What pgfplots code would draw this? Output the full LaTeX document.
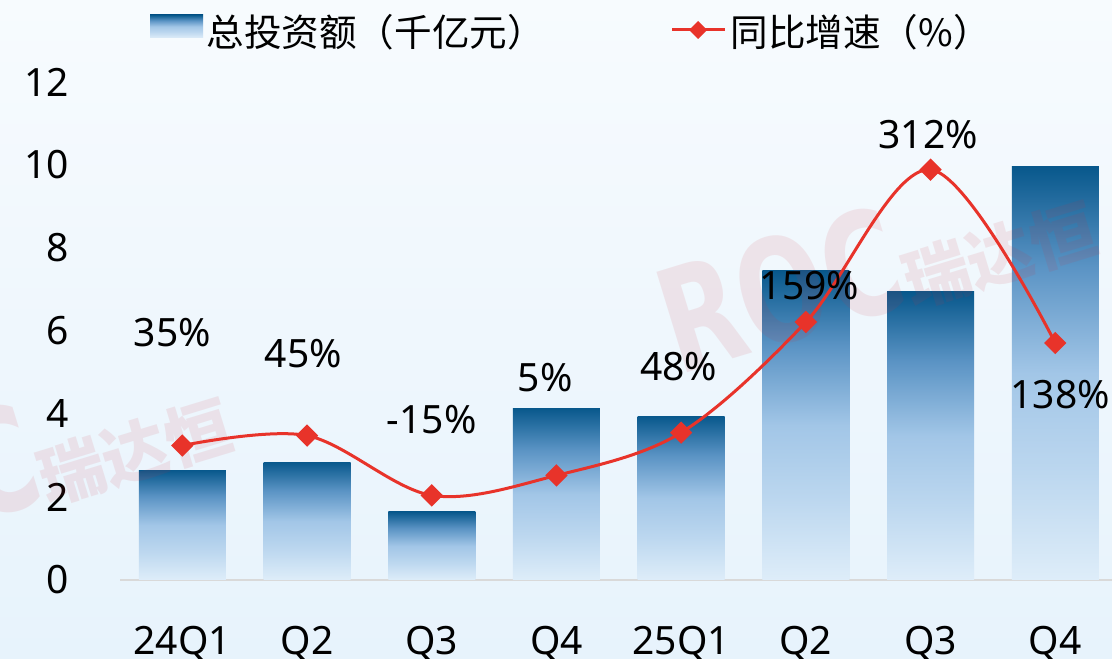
\documentclass[border=0pt]{standalone}
\usepackage{pgfplots}
\pgfplotsset{compat=1.18}
\usepackage{fontspec}
\setmainfont{Noto Sans}
\newfontfamily\cjk{Noto Sans CJK SC}
\newfontfamily\wmfont{DejaVu Sans}
\definecolor{bgtop}{HTML}{F7FBFE}
\definecolor{bgbot}{HTML}{E7F3FC}
\definecolor{bdark}{HTML}{08588C}
\definecolor{bmidd}{HTML}{5A93C4}
\definecolor{bmid}{HTML}{A2C6E7}
\definecolor{bml}{HTML}{BCD7EF}
\definecolor{blight}{HTML}{DEEDF9}
\definecolor{lred}{HTML}{E8332A}
\definecolor{wm}{HTML}{D0303C}
\pgfdeclareverticalshading{barshade}{100bp}{color(0bp)=(blight); color(25bp)=(blight); color(38bp)=(bml); color(50bp)=(bmid); color(63bp)=(bmidd); color(75bp)=(bdark); color(100bp)=(bdark)}
\pgfplotsset{gbar/.style={ybar, bar width=43.5pt, bar shift=0pt, draw=none, shading=barshade}}
\begin{document}
\begin{tikzpicture}[x=1pt,y=1pt]
\path[use as bounding box] (0,0) rectangle (556,329);
\shade[top color=bgtop,bottom color=bgbot] (0,0) rectangle (556,329);
\begin{axis}[
  at={(60pt,39pt)}, anchor=south west, scale only axis,
  width=496pt, height=249pt,
  xmin=-0.5, xmax=7.455, ymin=0, ymax=12,
  axis x line*=bottom, axis y line*=left,
  y axis line style={draw=none},
  x axis line style={draw=black!15, line width=0.8pt},
  major tick length=0pt,
  ytick={0,2,4,6,8,10,12},
  xtick={0,1,2,3,4,5,6,7},
  xticklabels={24Q1,Q2,Q3,Q4,25Q1,Q2,Q3,Q4},
  /pgf/number format/assume math mode=true,
  tick label style={font=\fontsize{19.5}{23}\selectfont, text=black},
  yticklabel style={xshift=-22pt},
  xticklabel style={yshift=-19.5pt},
  clip=false,
]
\addplot[gbar] coordinates {(0,2.65)};
\addplot[gbar] coordinates {(1,2.84)};
\addplot[gbar] coordinates {(2,1.64)};
\addplot[gbar] coordinates {(3,4.14)};
\addplot[gbar] coordinates {(4,3.95)};
\addplot[gbar] coordinates {(5,7.45)};
\addplot[gbar] coordinates {(6,6.94)};
\addplot[gbar] coordinates {(7,9.96)};
\end{axis}
% watermark
\begin{scope}[opacity=0.10]
\node[rotate=17, text=wm, font=\cjk\bfseries\fontsize{33}{33}\selectfont] at (500,201.5) {瑞达恒};
\node[rotate=17, xscale=0.72, text=wm, font=\wmfont\bfseries\fontsize{72}{72}\selectfont] at (390,184) {ROC};
\node[rotate=17, text=wm, font=\cjk\bfseries\fontsize{33}{33}\selectfont] at (67.5,103) {瑞达恒};
\node[rotate=17, xscale=0.72, text=wm, font=\wmfont\bfseries\fontsize{72}{72}\selectfont] at (-42,86) {ROC};
\end{scope}
\begin{axis}[
  at={(60pt,39pt)}, anchor=south west, scale only axis,
  width=496pt, height=249pt,
  xmin=-0.5, xmax=7.455, ymin=-100, ymax=400,
  hide axis, clip=false,
]
\addplot[lred, line width=1.5pt, smooth, tension=0.55,
  mark=square*, mark size=3.2pt, mark options={rotate=45, solid, fill=lred}]
  coordinates {(0,35) (1,45) (2,-15) (3,5) (4,48) (5,159) (6,312) (7,138)};
\begin{scope}[every node/.style={font=\fontsize{19.5}{23}\selectfont, text=black}]
\node at (axis cs:-0.08,148) {35\%};
\node at (axis cs:0.97,127) {45\%};
\node at (axis cs:2.0,61) {-15\%};
\node at (axis cs:2.91,103) {5\%};
\node at (axis cs:3.98,114) {48\%};
\node at (axis cs:5.03,196) {159\%};
\node at (axis cs:5.98,347) {312\%};
\node at (axis cs:7.04,86) {138\%};
\end{scope}
\end{axis}
% legend
\shade[shading=barshade] (75,310) rectangle (101.5,321.5);
\node[anchor=west, inner sep=0pt, font=\cjk\fontsize{18.8}{21}\selectfont] at (103,313) {总投资额（千亿元）};
\draw[lred, line width=1.5pt] (336,314) -- (362.5,314);
\fill[lred] (349,318.5) -- (353.5,314) -- (349,309.5) -- (344.5,314) -- cycle;
\node[anchor=west, inner sep=0pt, font=\cjk\fontsize{18.8}{21}\selectfont] at (365,313) {同比增速（\%）};
\end{tikzpicture}
\end{document}
